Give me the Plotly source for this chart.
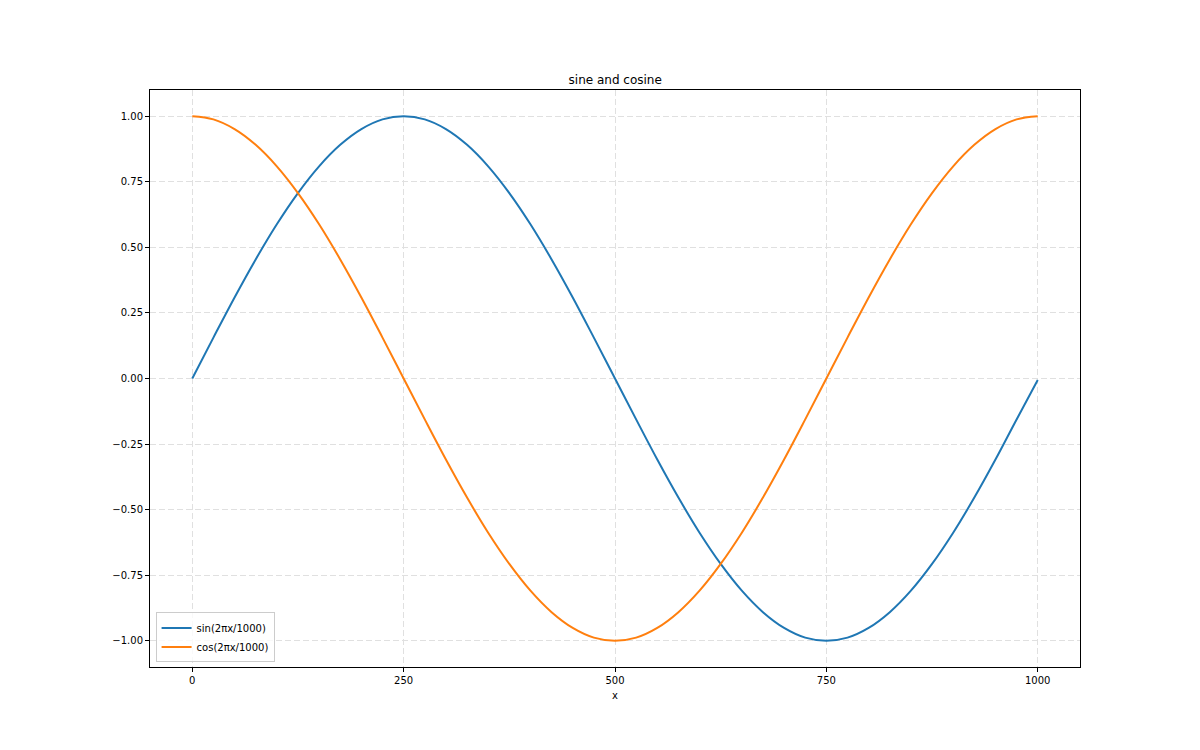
import plotly.graph_objects as go

x_vals = [0, 25, 50, 75, 100, 125, 150, 175, 200, 225,
          250, 275, 300, 325, 350, 375, 400, 425, 450, 475,
          500, 525, 550, 575, 600, 625, 650, 675, 700, 725,
          750, 775, 800, 825, 850, 875, 900, 925, 950, 975, 1000]

sin_vals = [0.000, 0.156, 0.309, 0.454, 0.588, 0.707, 0.809, 0.891, 0.951, 0.988,
            1.000, 0.988, 0.951, 0.891, 0.809, 0.707, 0.588, 0.454, 0.309, 0.156,
            0.000, -0.156, -0.309, -0.454, -0.588, -0.707, -0.809, -0.891, -0.951, -0.988,
            -1.000, -0.988, -0.951, -0.891, -0.809, -0.707, -0.588, -0.454, -0.309, -0.156, -0.006]

cos_vals = [1.000, 0.988, 0.951, 0.891, 0.809, 0.707, 0.588, 0.454, 0.309, 0.156,
            0.000, -0.156, -0.309, -0.454, -0.588, -0.707, -0.809, -0.891, -0.951, -0.988,
            -1.000, -0.988, -0.951, -0.891, -0.809, -0.707, -0.588, -0.454, -0.309, -0.156,
            0.000, 0.156, 0.309, 0.454, 0.588, 0.707, 0.809, 0.891, 0.951, 0.988, 1.000]

x_ticks = [0, 250, 500, 750, 1000]
y_ticks = [-1.0, -0.75, -0.5, -0.25, 0.0, 0.25, 0.5, 0.75, 1.0]

font = "DejaVu Sans"

fig = go.Figure()
fig.add_trace(go.Scatter(x=x_vals, y=sin_vals, mode="lines", name="sin(2πx/1000)",
                         line=dict(color="#1f77b4", width=2, shape="spline")))
fig.add_trace(go.Scatter(x=x_vals, y=cos_vals, mode="lines", name="cos(2πx/1000)",
                         line=dict(color="#ff7f0e", width=2, shape="spline")))

axis_style = dict(showline=True, mirror=True, linecolor="black", linewidth=1,
                  ticks="outside", ticklen=4, tickcolor="black",
                  showgrid=True, gridcolor="#e0e0e0", griddash="6px,3px", gridwidth=1,
                  zeroline=False, tickfont=dict(family=font, size=10, color="black"))

fig.update_xaxes(range=[-50, 1050], tickvals=x_ticks,
                 title=dict(text="x", font=dict(family=font, size=10, color="black"), standoff=6),
                 **axis_style)
fig.update_yaxes(range=[-1.1, 1.1], tickvals=y_ticks, tickformat=".2f", **axis_style)

# page body adds an 8px offset, so the margins are shifted to compensate
fig.update_layout(
    width=1200, height=750,
    paper_bgcolor="white", plot_bgcolor="white",
    margin=dict(l=142, r=128, t=82, b=91),
    title=dict(text="sine and cosine", x=0.506, xanchor="center", y=0.899, yanchor="bottom",
               font=dict(family=font, size=12, color="black")),
    legend=dict(x=0.006, y=0.008, xanchor="left", yanchor="bottom",
                bgcolor="rgba(255,255,255,0.8)", bordercolor="#cccccc", borderwidth=1,
                font=dict(family=font, size=10, color="black"), tracegroupgap=0),
    showlegend=True,
)

fig.write_html("out.html")
